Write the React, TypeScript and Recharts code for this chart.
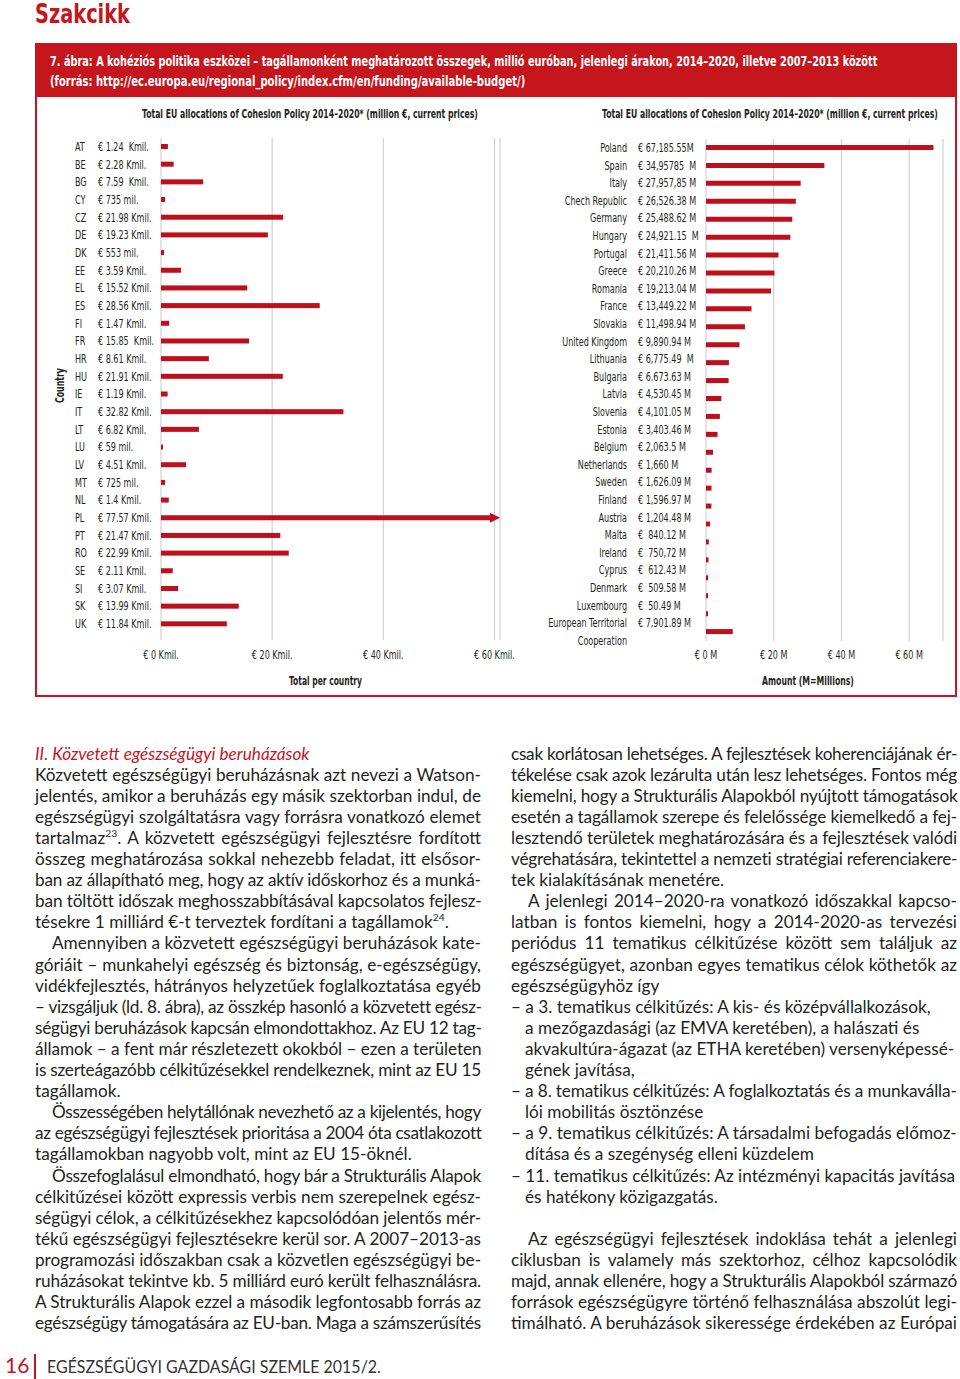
import React, { useLayoutEffect, useRef, useState } from 'react'
import { BarChart, Bar, XAxis, YAxis, CartesianGrid } from 'recharts'

// bal oldali diagram: 2007-2013, tagállamonként (Kmil. = milliárd €)
const countryCodes = ['AT', 'BE', 'BG', 'CY', 'CZ', 'DE', 'DK', 'EE', 'EL', 'ES', 'FI', 'FR', 'HR', 'HU', 'IE', 'IT', 'LT', 'LU', 'LV', 'MT', 'NL', 'PL', 'PT', 'RO', 'SE', 'SI', 'SK', 'UK']
const totalLabels = ['€ 1.24  Kmil.', '€ 2.28 Kmil.', '€ 7.59  Kmil.', '€ 735 mil.', '€ 21.98 Kmil.', '€ 19.23 Kmil.', '€ 553 mil.', '€ 3.59 Kmil.', '€ 15.52 Kmil.', '€ 28.56 Kmil.', '€ 1.47 Kmil.', '€ 15.85  Kmil.', '€ 8.61 Kmil.', '€ 21.91 Kmil.', '€ 1.19 Kmil.', '€ 32.82 Kmil.', '€ 6.82 Kmil.', '€ 59 mil.', '€ 4.51 Kmil.', '€ 725 mil.', '€ 1.4 Kmil.', '€ 77.57 Kmil.', '€ 21.47 Kmil.', '€ 22.99 Kmil.', '€ 2.11 Kmil.', '€ 3.07 Kmil.', '€ 13.99 Kmil.', '€ 11.84 Kmil.']
const totalValues = [1.24, 2.28, 7.59, 0.735, 21.98, 19.23, 0.553, 3.59, 15.52, 28.56, 1.47, 15.85, 8.61, 21.91, 1.19, 32.82, 6.82, 0.059, 4.51, 0.725, 1.4, 77.57, 21.47, 22.99, 2.11, 3.07, 13.99, 11.84]
const leftTicks = [0, 20, 40, 60]
const leftMax = 61

// jobb oldali diagram: 2014-2020 (millió €)
const countryNames = ['Poland', 'Spain', 'Italy', 'Chech Republic', 'Germany', 'Hungary', 'Portugal', 'Greece', 'Romania', 'France', 'Slovakia', 'United Kingdom', 'Lithuania', 'Bulgaria', 'Latvia', 'Slovenia', 'Estonia', 'Belgium', 'Netherlands', 'Sweden', 'Finland', 'Austria', 'Malta', 'Ireland', 'Cyprus', 'Denmark', 'Luxembourg', 'European Territorial Cooperation']
const amountLabels = ['€ 67,185.55M', '€ 34,95785  M', '€ 27,957,85 M', '€ 26,526.38 M', '€ 25,488.62 M', '€ 24,921.15  M', '€ 21,411.56 M', '€ 20,210.26 M', '€ 19,213.04 M', '€ 13,449.22 M', '€ 11,498.94 M', '€ 9,890.94 M', '€ 6,775.49  M', '€ 6.673.63 M', '€ 4,530.45 M', '€ 4,101.05 M', '€ 3,403.46 M', '€ 2,063.5 M', '€ 1,660 M', '€ 1,626.09 M', '€ 1,596.97 M', '€ 1,204.48 M', '€  840.12 M', '€  750,72 M', '€  612.43 M', '€  509.58 M', '€  50.49 M', '€ 7,901.89 M']
const amountMillions = [67185.55, 34957.85, 27957.85, 26526.38, 25488.62, 24921.15, 21411.56, 20210.26, 19213.04, 13449.22, 11498.94, 9890.94, 6775.49, 6673.63, 4530.45, 4101.05, 3403.46, 2063.5, 1660, 1626.09, 1596.97, 1204.48, 840.12, 750.72, 612.43, 509.58, 50.49, 7901.89]
const rightTicks = [0, 20, 40, 60]

const leftData = countryCodes.map((code, i) => ({ code, label: totalLabels[i], value: totalValues[i] }))
// a tengelyen "€ 20 M" a 20 000 millió helyén áll
const rightData = countryNames.map((name, i) => ({ name, label: amountLabels[i], value: amountMillions[i] / 1000 }))

const RED = '#c4161c'
const BAR = '#be0f1d'
const INK = '#231f20'
const NARROW = "'Liberation Sans Narrow', 'DejaVu Sans Condensed', 'Arial Narrow', sans-serif"
const BODY = "Lato, 'Open Sans', sans-serif"

// keskenyített felirat (a nyomtatott ábra condensed betűjéhez)
const NText = ({ x, y, anchor = 'start', children }: { x: number; y: number; anchor?: 'start' | 'middle' | 'end'; children: React.ReactNode }) => (
  <text transform={`translate(${x} ${y}) scale(0.78 1)`} textAnchor={anchor} dy={4} style={{ whiteSpace: 'pre' }}>{children}</text>
)

// adott szélességre húzott/nyomott felirat
function FitText({ x, y, width, rotate = 0, children, ...rest }: any) {
  const ref = useRef<SVGTextElement>(null)
  const [s, setS] = useState(1)
  useLayoutEffect(() => {
    const el = ref.current
    if (!el) return
    const w = el.getComputedTextLength()
    if (w > 0) setS(width / w)
  }, [width])
  return (
    <text ref={ref} transform={`translate(${x} ${y}) rotate(${rotate}) scale(${s} 1)`} {...rest}>{children}</text>
  )
}

const LeftTick = (props: any) => {
  const { y, payload } = props
  const i = countryCodes.indexOf(payload.value)
  return (
    <g fontFamily={NARROW} fontSize={11.5} fill={INK}>
      <NText x={35} y={y}>{payload.value}</NText>
      <NText x={58} y={y}>{totalLabels[i]}</NText>
    </g>
  )
}

const RightTick = (props: any) => {
  const { y, payload } = props
  const name: string = payload.value
  const i = countryNames.indexOf(name)
  const two = name.length > 20
  const cut = name.lastIndexOf(' ')
  // a feliratok sűrűbben állnak, mint az oszlopok
  const ly = two ? y - 9 : y - i * 0.33
  return (
    <g fontFamily={NARROW} fontSize={11.5} fill={INK}>
      {two ? (
        <>
          <NText x={107} y={y - 9} anchor="end">{name.slice(0, cut)}</NText>
          <NText x={107} y={y + 9} anchor="end">{name.slice(cut + 1)}</NText>
        </>
      ) : (
        <NText x={107} y={ly} anchor="end">{name}</NText>
      )}
      <NText x={118} y={ly}>{amountLabels[i]}</NText>
    </g>
  )
}

const XTick = (props: any, unit: string) => (
  <g fontFamily={NARROW} fontSize={11.5} fill={INK}>
    <NText x={props.x} y={props.y + 6} anchor="middle">{`€ ${props.payload.value} ${unit}`}</NText>
  </g>
)

// a tengelyen túlnyúló oszlop nyíllal végződik
const ArrowBar = (props: any) => {
  const { x, y, width, height, fill, payload } = props
  if (payload.value <= leftMax) return <rect x={x} y={y} width={width} height={height} fill={fill} />
  const w = width * leftMax / payload.value
  const cy = y + height / 2
  return (
    <g fill={fill}>
      <rect x={x} y={y} width={w - 10} height={height} />
      <polygon points={`${x + w - 10},${cy - 5} ${x + w},${cy} ${x + w - 10},${cy + 5}`} />
    </g>
  )
}

type Ln = { t: string; j?: boolean; i?: number }

const leftLines: Ln[] = [
  { t: 'Közvetett egészségügyi beruházásnak azt nevezi a Watson-', j: true },
  { t: 'jelentés, amikor a beruházás egy másik szektorban indul, de', j: true },
  { t: 'egészségügyi szolgáltatásra vagy forrásra vonatkozó elemet', j: true },
  { t: 'tartalmaz^23^. A közvetett egészségügyi fejlesztésre fordított', j: true },
  { t: 'összeg meghatározása sokkal nehezebb feladat, itt elsősor-', j: true },
  { t: 'ban az állapítható meg, hogy az aktív időskorhoz és a munká-', j: true },
  { t: 'ban töltött időszak meghosszabbításával kapcsolatos fejlesz-', j: true },
  { t: 'tésekre 1 milliárd €-t terveztek fordítani a tagállamok^24^.' },
  { t: 'Amennyiben a közvetett egészségügyi beruházások kate-', j: true, i: 17 },
  { t: 'góriáit – munkahelyi egészség és biztonság, e-egészségügy,', j: true },
  { t: 'vidékfejlesztés, hátrányos helyzetűek foglalkoztatása egyéb', j: true },
  { t: '– vizsgáljuk (ld. 8. ábra), az összkép hasonló a közvetett egész-', j: true },
  { t: 'ségügyi beruházások kapcsán elmondottakhoz. Az EU 12 tag-', j: true },
  { t: 'államok – a fent már részletezett okokból – ezen a területen', j: true },
  { t: 'is szerteágazóbb célkitűzésekkel rendelkeznek, mint az EU 15', j: true },
  { t: 'tagállamok.' },
  { t: 'Összességében helytállónak nevezhető az a kijelentés, hogy', j: true, i: 17 },
  { t: 'az egészségügyi fejlesztések prioritása a 2004 óta csatlakozott', j: true },
  { t: 'tagállamokban nagyobb volt, mint az EU 15-öknél.' },
  { t: 'Összefoglalásul elmondható, hogy bár a Strukturális Alapok', j: true, i: 17 },
  { t: 'célkitűzései között expressis verbis nem szerepelnek egész-', j: true },
  { t: 'ségügyi célok, a célkitűzésekhez kapcsolódóan jelentős mér-', j: true },
  { t: 'tékű egészségügyi fejlesztésekre kerül sor. A 2007–2013-as', j: true },
  { t: 'programozási időszakban csak a közvetlen egészségügyi be-', j: true },
  { t: 'ruházásokat tekintve kb. 5 milliárd euró került felhasználásra.', j: true },
  { t: 'A Strukturális Alapok ezzel a második legfontosabb forrás az', j: true },
  { t: 'egészségügy támogatására az EU-ban. Maga a számszerűsítés', j: true },
]

const rightLines: Ln[] = [
  { t: 'csak korlátosan lehetséges. A fejlesztések koherenciájának ér-', j: true },
  { t: 'tékelése csak azok lezárulta után lesz lehetséges. Fontos még', j: true },
  { t: 'kiemelni, hogy a Strukturális Alapokból nyújtott támogatások', j: true },
  { t: 'esetén a tagállamok szerepe és felelőssége kiemelkedő a fej-', j: true },
  { t: 'lesztendő területek meghatározására és a fejlesztések valódi', j: true },
  { t: 'végrehatására, tekintettel a nemzeti stratégiai referenciakere-', j: true },
  { t: 'tek kialakításának menetére.' },
  { t: 'A jelenlegi 2014–2020-ra vonatkozó időszakkal kapcso-', j: true, i: 17 },
  { t: 'latban is fontos kiemelni, hogy a 2014-2020-as tervezési', j: true },
  { t: 'periódus 11 tematikus célkitűzése között sem találjuk az', j: true },
  { t: 'egészségügyet, azonban egyes tematikus célok köthetők az', j: true },
  { t: 'egészségügyhöz így' },
  { t: '– a 3. tematikus célkitűzés: A kis- és középvállalkozások,' },
  { t: 'a mezőgazdasági (az EMVA keretében), a halászati és', i: 14 },
  { t: 'akvakultúra-ágazat (az ETHA keretében) versenyképessé-', i: 14 },
  { t: 'gének javítása,', i: 14 },
  { t: '– a 8. tematikus célkitűzés: A foglalkoztatás és a munkaválla-' },
  { t: 'lói mobilitás ösztönzése', i: 14 },
  { t: '– a 9. tematikus célkitűzés: A társadalmi befogadás előmoz-' },
  { t: 'dítása és a szegénység elleni küzdelem', i: 14 },
  { t: '– 11. tematikus célkitűzés: Az intézményi kapacitás javítása' },
  { t: 'és hatékony közigazgatás.', i: 14 },
  { t: '' },
  { t: 'Az egészségügyi fejlesztések indoklása tehát a jelenlegi', j: true, i: 17 },
  { t: 'ciklusban is valamely más szektorhoz, célhoz kapcsolódik', j: true },
  { t: 'majd, annak ellenére, hogy a Strukturális Alapokból származó', j: true },
  { t: 'források egészségügyre történő felhasználása abszolút legi-', j: true },
  { t: 'timálható. A beruházások sikeressége érdekében az Európai', j: true },
]

function TextLine({ text, top, left, width, justify, style }: { text: string; top: number; left: number; width: number; justify?: boolean; style?: React.CSSProperties }) {
  const ref = useRef<HTMLSpanElement>(null)
  const [adj, setAdj] = useState({ ws: 0, ls: 0 })
  useLayoutEffect(() => {
    const el = ref.current
    if (!el) return
    const natural = el.getBoundingClientRect().width
    const content = el.textContent || ''
    const extra = width - natural
    const spaces = content.split(' ').length - 1
    if (justify && extra > 0 && spaces > 0) setAdj({ ws: extra / spaces, ls: 0 })
    else if (extra < 0) setAdj({ ws: 0, ls: extra / content.length })
  }, [text, width, justify])
  const parts = text.split(/\^(\d+)\^/)
  return (
    <div style={{ position: 'absolute', top, left, width, height: 21, lineHeight: '21px', whiteSpace: 'nowrap', ...style }}>
      <span ref={ref} style={{ wordSpacing: adj.ws, letterSpacing: adj.ls }}>
        {parts.map((p, k) => k % 2 ? <sup key={k} style={{ fontSize: '0.6em', lineHeight: 0 }}>{p}</sup> : p)}
      </span>
    </div>
  )
}

const lineTop = (n: number) => 755 + n * 21.1 - 12.5

export default function App() {
  return (
    <div style={{ position: 'absolute', left: 0, top: 0, width: 960, height: 1379, background: '#fff', overflow: 'hidden', color: INK, fontFamily: BODY, fontSize: 17.2 }}>
      <svg width={960} height={700} style={{ position: 'absolute', left: 0, top: 0 }} fontFamily={NARROW} fontWeight="bold">
        <FitText x={35} y={23} width={95} fontSize={26} fill={RED}>Szakcikk</FitText>
        <rect x={35} y={43} width={922} height={54} fill={RED} />
        <FitText x={50} y={66} width={828} fontSize={14} fill="#fff">7. ábra: A kohéziós politika eszközei – tagállamonként meghatározott összegek, millió euróban, jelenlegi árakon, 2014–2020, illetve 2007–2013 között</FitText>
        <FitText x={50} y={86} width={476} fontSize={14} fill="#fff">(forrás: http://ec.europa.eu/regional_policy/index.cfm/en/funding/available-budget/)</FitText>
        <rect x={36} y={96} width={920} height={600} fill="none" stroke={RED} strokeWidth={2} />
        <FitText x={142} y={118} width={336} fontSize={12} fill={INK}>Total EU allocations of Cohesion Policy 2014–2020* (million €, current prices)</FitText>
        <FitText x={602} y={118} width={336} fontSize={12} fill={INK}>Total EU allocations of Cohesion Policy 2014–2020* (million €, current prices)</FitText>
        <FitText x={64} y={403} rotate={-90} width={35} fontSize={12} fill={INK}>Country</FitText>
        <FitText x={289} y={685} width={73} fontSize={12} fill={INK}>Total per country</FitText>
        <FitText x={762} y={685} width={92} fontSize={12} fill={INK}>Amount (M=Millions)</FitText>
      </svg>

      <div style={{ position: 'absolute', left: 40, top: 130 }}>
        <BarChart width={480} height={570} data={leftData} layout="vertical" margin={{ top: 8, right: 20, bottom: 10, left: 0 }}>
          <CartesianGrid horizontal={false} stroke="#c8c8c8" />
          <XAxis type="number" domain={[0, leftMax]} ticks={leftTicks} allowDataOverflow interval={0}
            axisLine={false} tickLine={false} tickSize={0} tickMargin={9} height={50}
            tick={(p: any) => XTick(p, 'Kmil.')} />
          <YAxis type="category" dataKey="code" width={121} axisLine={false} tickLine={false} interval={0}
            padding={{ top: 0, bottom: 7 }} tick={(p: any) => <LeftTick {...p} />} />
          <Bar dataKey="value" fill={BAR} barSize={5} minPointSize={2} shape={ArrowBar} isAnimationActive={false} />
        </BarChart>
      </div>

      <div style={{ position: 'absolute', left: 520, top: 130 }}>
        <BarChart width={437} height={570} data={rightData} layout="vertical" margin={{ top: 9, right: 14, bottom: 9, left: 0 }}>
          <CartesianGrid horizontal={false} stroke="#c8c8c8" />
          <XAxis type="number" domain={[0, 70]} ticks={rightTicks} allowDataOverflow interval={0}
            axisLine={false} tickLine={false} tickSize={0} tickMargin={8} height={50}
            tick={(p: any) => XTick(p, 'M')} />
          <YAxis type="category" dataKey="name" width={186} axisLine={false} tickLine={false} interval={0}
            tick={(p: any) => <RightTick {...p} />} />
          <Bar dataKey="value" fill={BAR} barSize={5} minPointSize={2} isAnimationActive={false} />
        </BarChart>
      </div>

      <TextLine text="II. Közvetett egészségügyi beruházások" top={lineTop(0)} left={35} width={446}
        style={{ color: RED, fontStyle: 'italic' }} />
      {leftLines.map((l, n) => (
        <TextLine key={'l' + n} text={l.t} justify={l.j} top={lineTop(n + 1)} left={35 + (l.i || 0)} width={446 - (l.i || 0)} />
      ))}
      {rightLines.map((l, n) => (
        <TextLine key={'r' + n} text={l.t} justify={l.j} top={lineTop(n)} left={511 + (l.i || 0)} width={446 - (l.i || 0)} />
      ))}

      <svg width={960} height={40} style={{ position: 'absolute', left: 0, top: 1339 }} fontFamily={BODY}>
        <text x={5} y={34} fontSize={21} fill={RED}>16</text>
        <rect x={34} y={15} width={2} height={25} fill={RED} />
        <FitText x={47} y={34} width={334} fontSize={17} fill="#333">EGÉSZSÉGÜGYI GAZDASÁGI SZEMLE 2015/2.</FitText>
      </svg>
    </div>
  )
}
